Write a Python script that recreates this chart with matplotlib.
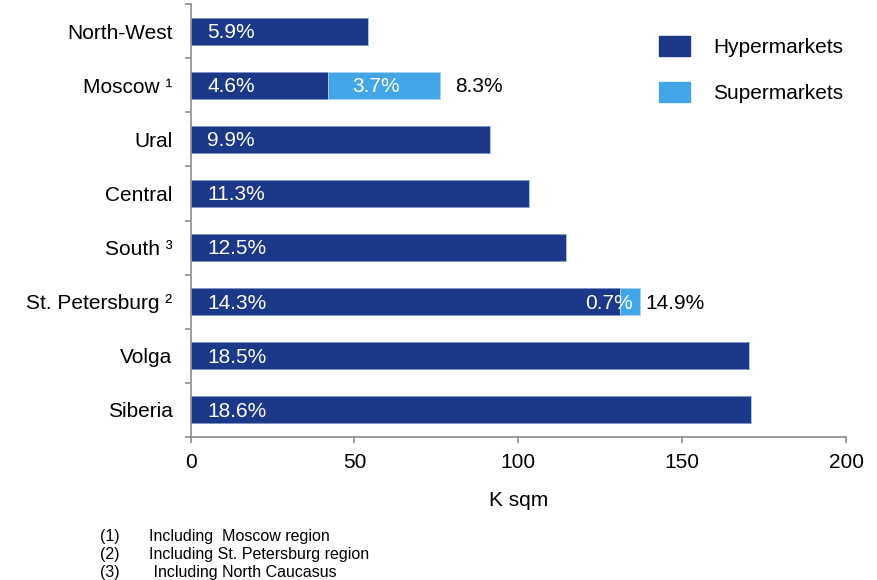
import matplotlib
matplotlib.use("Agg")
import matplotlib.pyplot as plt
from matplotlib.patches import Patch

plt.rcParams['font.family'] = ['Liberation Sans', 'DejaVu Sans']

categories = ["North-West", "Moscow ¹", "Ural", "Central", "South ³",
              "St. Petersburg ²", "Volga", "Siberia"]
hyper = [54.1, 42.0, 91.4, 103.3, 114.6, 131.0, 170.5, 170.9]
super_ = [0, 34.1, 0, 0, 0, 6.2, 0, 0]
hyper_labels = ["5.9%", "4.6%", "9.9%", "11.3%", "12.5%", "14.3%", "18.5%", "18.6%"]
super_labels = ["", "3.7%", "", "", "", "0.7%", "", ""]
total_labels = ["", "8.3%", "", "", "", "14.9%", "", ""]
xticks = [0, 50, 100, 150, 200]
footnotes = [("(1)", "Including  Moscow region"),
             ("(2)", "Including St. Petersburg region"),
             ("(3)", " Including North Caucasus")]

# label offsets (points) for total labels
total_offsets = [0, 11, 0, 0, 0, 4, 0, 0]

C_HYPER = "#1B3889"
C_SUPER = "#41A5E8"
AXC = "#8C8C8C"

fig = plt.figure(figsize=(8.77, 5.8), dpi=100)
ax = fig.add_axes([190.6/877, 1-437/580, (846-190.6)/877, (437-4)/580])

n = len(categories)
ypos = [n - 1 - i for i in range(n)]
ax.barh(ypos, hyper, height=0.5, color=C_HYPER, edgecolor="#7F93C9", linewidth=0.6, label="Hypermarkets")
ax.barh(ypos, super_, left=hyper, height=0.5, color=C_SUPER, edgecolor="#A6D3F3", linewidth=0.6, label="Supermarkets")

fs = 15
for i, y in enumerate(ypos):
    ax.annotate(hyper_labels[i], xy=(0, y), xytext=(12, -1), textcoords="offset points",
                ha="left", va="center", color="white", fontsize=fs)
    if super_labels[i]:
        if super_[i] > 15:
            ax.annotate(super_labels[i], xy=(hyper[i], y), xytext=(17, -1), textcoords="offset points",
                        ha="left", va="center", color="white", fontsize=fs)
        else:
            ax.annotate(super_labels[i], xy=(hyper[i] + super_[i], y), xytext=(-5, -1), textcoords="offset points",
                        ha="right", va="center", color="white", fontsize=fs)
    if total_labels[i]:
        ax.annotate(total_labels[i], xy=(hyper[i] + super_[i], y), xytext=(total_offsets[i], -1),
                    textcoords="offset points", ha="left", va="center", color="black", fontsize=fs)

ax.set_xlim(0, 200)
ax.set_ylim(-0.5, n - 0.5)
ax.set_xticks(xticks)
ax.set_xticklabels([str(t) for t in xticks], fontsize=fs)
ax.set_yticks(ypos)
ax.set_yticklabels(categories, fontsize=fs)
ax.set_yticks([y - 0.5 for y in range(0, n + 1)], minor=True)
ax.tick_params(axis="y", which="major", length=0, pad=13)
ax.tick_params(axis="y", which="minor", length=4.5, color=AXC, width=1.2)
ax.tick_params(axis="x", length=4.5, color=AXC, width=1.2, pad=7)
for s in ["top", "right"]:
    ax.spines[s].set_visible(False)
for s in ["left", "bottom"]:
    ax.spines[s].set_color(AXC)
    ax.spines[s].set_linewidth(1.2)
ax.set_xlabel("K sqm", fontsize=fs, labelpad=14)

handles = [Patch(facecolor=C_HYPER, edgecolor=C_HYPER), Patch(facecolor=C_SUPER, edgecolor=C_SUPER)]
fig.legend(handles, ["Hypermarkets", "Supermarkets"], loc="upper left",
           bbox_to_anchor=(642/877, 1-19/580), frameon=False, fontsize=fs,
           handlelength=1.5, handleheight=1.1, labelspacing=1.2, handletextpad=1.1,
           borderpad=0.3)

for k, (num, txt) in enumerate(footnotes):
    yy = 1 - (536 + k * 18) / 580
    fig.text(100/877, yy, num, fontsize=11.5, va="center", ha="left")
    fig.text(149/877, yy, txt, fontsize=11.5, va="center", ha="left")

fig.savefig("out.png", dpi=100)
